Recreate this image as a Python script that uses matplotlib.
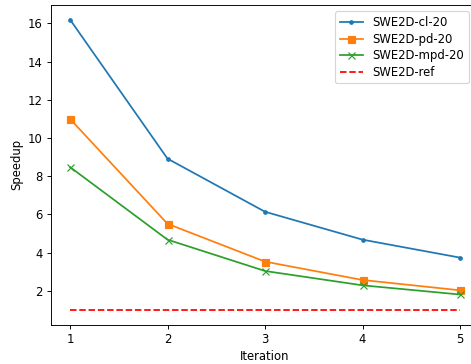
import matplotlib
matplotlib.use("Agg")
import matplotlib.pyplot as plt

iterations = [1, 2, 3, 4, 5]
cl20 = [16.2, 8.92, 6.14, 4.68, 3.74]
pd20 = [11.0, 5.51, 3.53, 2.57, 2.03]
mpd20 = [8.48, 4.68, 3.04, 2.29, 1.81]
ref = [1.0, 1.0, 1.0, 1.0, 1.0]

DPI = 84
W, H = 472, 364
fig = plt.figure(figsize=(W / DPI, H / DPI), dpi=DPI)
left, right, top, bottom = 50.5, 479.5, 5.0, 324.5
ax = fig.add_axes([left / W, 1 - bottom / H, (right - left) / W, (bottom - top) / H])
ax.plot(iterations, cl20, marker='.', label='SWE2D-cl-20')
ax.plot(iterations, pd20, marker='s', label='SWE2D-pd-20')
ax.plot(iterations, mpd20, marker='x', label='SWE2D-mpd-20')
ax.plot(iterations, ref, 'r--', label='SWE2D-ref')
ax.set_xticks(iterations)
ax.set_yticks([2, 4, 6, 8, 10, 12, 14, 16])
ax.set_xlabel('Iteration')
ax.set_ylabel('Speedup')
ax.legend(loc='upper left', bbox_to_anchor=(335 / W, 1 - 11.5 / H),
          bbox_transform=fig.transFigure, borderaxespad=0, labelspacing=0.3)
fig.savefig('out.png', dpi=DPI)
